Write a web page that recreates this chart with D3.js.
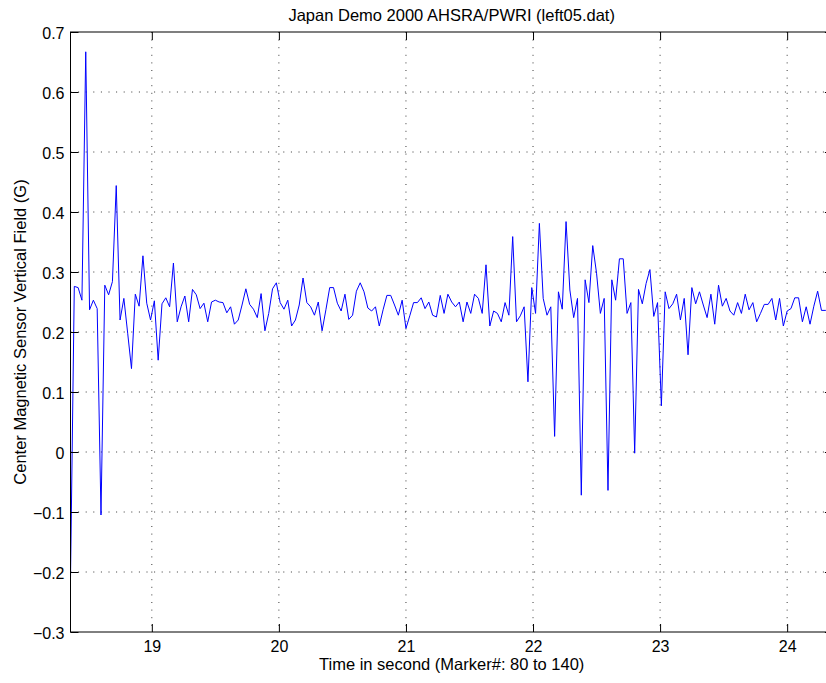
<!DOCTYPE html>
<html>
<head>
<meta charset="utf-8">
<script src="https://cdn.jsdelivr.net/npm/d3@7"></script>
<style>
  html, body { margin: 0; padding: 0; background: #fff; }
  svg { display: block; font-family: "Liberation Sans", Arial, Helvetica, sans-serif; }
</style>
</head>
<body>
<svg id="chart" width="826" height="683"></svg>
<script>
// ---- data ----
const chartTitle = "Japan Demo 2000 AHSRA/PWRI (left05.dat)";
const xAxisLabel = "Time in second (Marker#: 80 to 140)";
const yAxisLabel = "Center Magnetic Sensor Vertical Field (G)";

const startTime = 18.36;      // s, first sample
const sampleInterval = 0.03;  // s between samples
const fieldValues = [
  -0.21, 0.276, 0.274, 0.253, 0.667, 0.237, 0.253, 0.239, -0.105, 0.278,
  0.262, 0.284, 0.444, 0.22, 0.256, 0.198, 0.139, 0.263, 0.243, 0.327,
  0.248, 0.22, 0.252, 0.153, 0.247, 0.257, 0.242, 0.315, 0.217, 0.242,
  0.26, 0.217, 0.271, 0.262, 0.239, 0.248, 0.217, 0.25, 0.253, 0.25,
  0.249, 0.232, 0.242, 0.213, 0.22, 0.245, 0.272, 0.246, 0.238, 0.224,
  0.264, 0.202, 0.231, 0.272, 0.282, 0.249, 0.238, 0.253, 0.21, 0.22,
  0.245, 0.29, 0.249, 0.242, 0.228, 0.25, 0.202, 0.237, 0.274, 0.274,
  0.248, 0.235, 0.263, 0.221, 0.228, 0.268, 0.282, 0.267, 0.24, 0.235,
  0.242, 0.21, 0.237, 0.261, 0.261, 0.245, 0.228, 0.253, 0.206, 0.227,
  0.249, 0.249, 0.257, 0.239, 0.25, 0.228, 0.225, 0.261, 0.231, 0.263,
  0.25, 0.242, 0.25, 0.217, 0.25, 0.231, 0.263, 0.256, 0.231, 0.312,
  0.21, 0.235, 0.231, 0.217, 0.249, 0.228, 0.359, 0.217, 0.227, 0.242,
  0.117, 0.274, 0.231, 0.381, 0.256, 0.228, 0.242, 0.026, 0.267, 0.238,
  0.384, 0.27, 0.224, 0.256, -0.072, 0.287, 0.249, 0.344, 0.298, 0.231,
  0.256, -0.064, 0.287, 0.253, 0.322, 0.322, 0.231, 0.249, -0.002, 0.271,
  0.247, 0.281, 0.304, 0.226, 0.249, 0.077, 0.267, 0.239, 0.247, 0.263,
  0.22, 0.256, 0.162, 0.274, 0.247, 0.267, 0.245, 0.224, 0.263, 0.213,
  0.278, 0.243, 0.256, 0.235, 0.228, 0.249, 0.231, 0.263, 0.237, 0.249,
  0.217, 0.231, 0.246, 0.246, 0.256, 0.22, 0.256, 0.21, 0.235, 0.239,
  0.257, 0.257, 0.217, 0.242, 0.213, 0.243, 0.268, 0.236, 0.236, 0.236,
  0.24
];
const xTicks = [19, 20, 21, 22, 23, 24];
const xTickLabels = ["19", "20", "21", "22", "23", "24"];
const yTicks = [0.7, 0.6, 0.5, 0.4, 0.3, 0.2, 0.1, 0, -0.1, -0.2, -0.3];
const yTickLabels = ["0.7", "0.6", "0.5", "0.4", "0.3", "0.2", "0.1", "0", "\u22120.1", "\u22120.2", "\u22120.3"];

// ---- layout ----
const plot = { left: 70.5, right: 832.9, top: 32, bottom: 632 };
const svg = d3.select("#chart");
svg.append("rect").attr("width", 826).attr("height", 683).attr("fill", "#fff");

const points = fieldValues.map((v, i) => ({ t: startTime + i * sampleInterval, v }));

const x = d3.scaleLinear().domain([startTime, startTime + (fieldValues.length - 1) * sampleInterval])
  .range([plot.left, plot.right]);
const y = d3.scaleLinear().domain([-0.3, 0.7]).range([plot.bottom, plot.top]);

// grid
const grid = svg.append("g").attr("stroke", "#3a3a3a").attr("stroke-width", 1)
  .attr("stroke-dasharray", "1,6.6");
grid.selectAll("line.vx").data(xTicks).join("line")
  .attr("x1", d => x(d)).attr("x2", d => x(d))
  .attr("y1", plot.top).attr("y2", plot.bottom);
grid.selectAll("line.hy").data(yTicks.filter(d => d < 0.7 && d > -0.3)).join("line")
  .attr("x1", plot.left).attr("x2", plot.right)
  .attr("y1", d => y(d)).attr("y2", d => y(d));

// data line
svg.append("clipPath").attr("id", "clip").append("rect")
  .attr("x", plot.left).attr("y", plot.top)
  .attr("width", plot.right - plot.left).attr("height", plot.bottom - plot.top);
svg.append("path").datum(points)
  .attr("clip-path", "url(#clip)")
  .attr("fill", "none").attr("stroke", "#0000ff").attr("stroke-width", 1)
  .attr("stroke-linejoin", "round")
  .attr("d", d3.line().x(d => x(d.t)).y(d => y(d.v)));

// axes
const fontSize = 16;
const yAxis = svg.append("g").attr("transform", `translate(${plot.left},0)`)
  .call(d3.axisLeft(y).tickValues(yTicks).tickSize(-8).tickPadding(6)
    .tickFormat((d, i) => yTickLabels[i]));
const xAxis = svg.append("g").attr("transform", `translate(0,${plot.bottom})`)
  .call(d3.axisBottom(x).tickValues(xTicks).tickSize(-8).tickPadding(9)
    .tickFormat((d, i) => xTickLabels[i]));
const topAxis = svg.append("g").attr("transform", `translate(0,${plot.top})`)
  .call(d3.axisTop(x).tickValues(xTicks).tickSize(-8).tickFormat(""));
const rightAxis = svg.append("g").attr("transform", `translate(${plot.right},0)`)
  .call(d3.axisRight(y).tickValues(yTicks).tickSize(-8).tickFormat(""));
[yAxis, xAxis, topAxis, rightAxis].forEach(g => {
  g.select(".domain").remove();
  g.selectAll(".tick line").attr("stroke", "#000");
  g.selectAll(".tick text").attr("fill", "#000")
    .style("font-size", fontSize + "px")
    .style("font-family", '"Liberation Sans", Arial, Helvetica, sans-serif');
});
yAxis.selectAll(".tick text").attr("dy", "0.42em");

// box
svg.append("rect").attr("x", plot.left).attr("y", plot.top)
  .attr("width", plot.right - plot.left).attr("height", plot.bottom - plot.top)
  .attr("fill", "none").attr("stroke", "#000").attr("stroke-width", 1);

// labels
svg.append("text").attr("x", (plot.left + plot.right) / 2).attr("y", 21)
  .attr("text-anchor", "middle").style("font-size", "16.5px").text(chartTitle);
svg.append("text").attr("x", (plot.left + plot.right) / 2).attr("y", 670)
  .attr("text-anchor", "middle").style("font-size", "16.5px").text(xAxisLabel);
svg.append("text")
  .attr("transform", `translate(26,${(plot.top + plot.bottom) / 2}) rotate(-90)`)
  .attr("text-anchor", "middle").style("font-size", "16.5px").text(yAxisLabel);
</script>
</body>
</html>
